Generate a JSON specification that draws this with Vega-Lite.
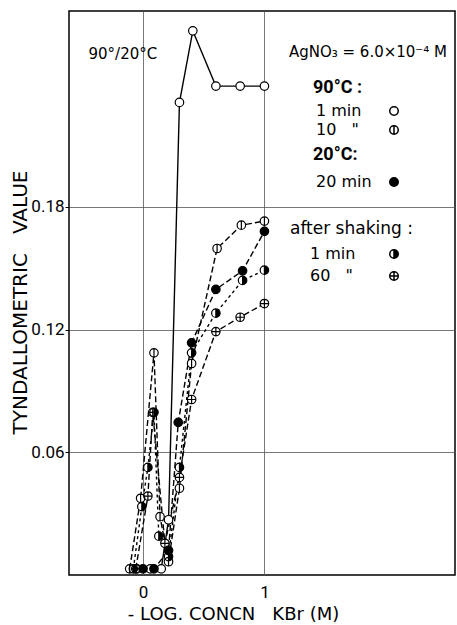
{
  "$schema": "https://vega.github.io/schema/vega-lite/v6.json",
  "width": 386,
  "height": 564,
  "autosize": "none",
  "padding": {"left": 69, "top": 11, "right": 2, "bottom": 50},
  "background": "white",
  "title": {
    "text": "AgNO₃ = 6.0×10⁻⁴ M",
    "orient": "top",
    "anchor": "end",
    "frame": "group",
    "offset": -49,
    "dx": -8,
    "font": "DejaVu Sans",
    "fontSize": 15,
    "fontWeight": "normal",
    "color": "black"
  },
  "config": {
    "font": "DejaVu Sans",
    "view": {"stroke": "black", "strokeWidth": 1.5},
    "axis": {
      "labelFont": "Roboto",
      "titleFont": "DejaVu Sans",
      "labelColor": "black",
      "titleColor": "black",
      "titleFontWeight": "normal",
      "domain": false,
      "gridColor": "#555",
      "gridWidth": 0.8,
      "tickColor": "black"
    },
    "legend": {
      "labelFont": "DejaVu Sans",
      "titleFont": "DejaVu Sans",
      "labelColor": "black",
      "titleColor": "black"
    }
  },
  "data": {
    "values": [
      {"series": "90°C 1 min", "group": "90°C", "time": "1 min", "x": -0.05, "y": 0.003},
      {"series": "90°C 1 min", "group": "90°C", "time": "1 min", "x": 0.06, "y": 0.003},
      {"series": "90°C 1 min", "group": "90°C", "time": "1 min", "x": 0.15, "y": 0.003},
      {"series": "90°C 1 min", "group": "90°C", "time": "1 min", "x": 0.21, "y": 0.027},
      {"series": "90°C 1 min", "group": "90°C", "time": "1 min", "x": 0.30, "y": 0.231},
      {"series": "90°C 1 min", "group": "90°C", "time": "1 min", "x": 0.41, "y": 0.266},
      {"series": "90°C 1 min", "group": "90°C", "time": "1 min", "x": 0.60, "y": 0.239},
      {"series": "90°C 1 min", "group": "90°C", "time": "1 min", "x": 0.80, "y": 0.239},
      {"series": "90°C 1 min", "group": "90°C", "time": "1 min", "x": 1.00, "y": 0.239},

      {"series": "90°C 10 min", "group": "90°C", "time": "10 min", "x": -0.11, "y": 0.003},
      {"series": "90°C 10 min", "group": "90°C", "time": "10 min", "x": -0.02, "y": 0.0375},
      {"series": "90°C 10 min", "group": "90°C", "time": "10 min", "x": 0.09, "y": 0.1086},
      {"series": "90°C 10 min", "group": "90°C", "time": "10 min", "x": 0.14, "y": 0.0285},
      {"series": "90°C 10 min", "group": "90°C", "time": "10 min", "x": 0.21, "y": 0.0065},
      {"series": "90°C 10 min", "group": "90°C", "time": "10 min", "x": 0.30, "y": 0.0424},
      {"series": "90°C 10 min", "group": "90°C", "time": "10 min", "x": 0.40, "y": 0.1034},
      {"series": "90°C 10 min", "group": "90°C", "time": "10 min", "x": 0.61, "y": 0.1596},
      {"series": "90°C 10 min", "group": "90°C", "time": "10 min", "x": 0.81, "y": 0.171},
      {"series": "90°C 10 min", "group": "90°C", "time": "10 min", "x": 1.00, "y": 0.173},

      {"series": "20°C 20 min", "group": "20°C", "time": "20 min", "x": 0.00, "y": 0.003},
      {"series": "20°C 20 min", "group": "20°C", "time": "20 min", "x": 0.09, "y": 0.003},
      {"series": "20°C 20 min", "group": "20°C", "time": "20 min", "x": 0.21, "y": 0.012},
      {"series": "20°C 20 min", "group": "20°C", "time": "20 min", "x": 0.29, "y": 0.0746},
      {"series": "20°C 20 min", "group": "20°C", "time": "20 min", "x": 0.40, "y": 0.1135},
      {"series": "20°C 20 min", "group": "20°C", "time": "20 min", "x": 0.60, "y": 0.1396},
      {"series": "20°C 20 min", "group": "20°C", "time": "20 min", "x": 0.82, "y": 0.1487},
      {"series": "20°C 20 min", "group": "20°C", "time": "20 min", "x": 1.00, "y": 0.168},

      {"series": "shaken 1 min", "group": "after shaking", "time": "1 min", "x": -0.08, "y": 0.003},
      {"series": "shaken 1 min", "group": "after shaking", "time": "1 min", "x": -0.01, "y": 0.0334},
      {"series": "shaken 1 min", "group": "after shaking", "time": "1 min", "x": 0.04, "y": 0.0526},
      {"series": "shaken 1 min", "group": "after shaking", "time": "1 min", "x": 0.09, "y": 0.0795},
      {"series": "shaken 1 min", "group": "after shaking", "time": "1 min", "x": 0.13, "y": 0.019},
      {"series": "shaken 1 min", "group": "after shaking", "time": "1 min", "x": 0.21, "y": 0.009},
      {"series": "shaken 1 min", "group": "after shaking", "time": "1 min", "x": 0.30, "y": 0.0526},
      {"series": "shaken 1 min", "group": "after shaking", "time": "1 min", "x": 0.40, "y": 0.1086},
      {"series": "shaken 1 min", "group": "after shaking", "time": "1 min", "x": 0.60, "y": 0.128},
      {"series": "shaken 1 min", "group": "after shaking", "time": "1 min", "x": 0.82, "y": 0.144},
      {"series": "shaken 1 min", "group": "after shaking", "time": "1 min", "x": 1.00, "y": 0.149},

      {"series": "shaken 60 min", "group": "after shaking", "time": "60 min", "x": -0.06, "y": 0.003},
      {"series": "shaken 60 min", "group": "after shaking", "time": "60 min", "x": 0.04, "y": 0.0386},
      {"series": "shaken 60 min", "group": "after shaking", "time": "60 min", "x": 0.08, "y": 0.0795},
      {"series": "shaken 60 min", "group": "after shaking", "time": "60 min", "x": 0.18, "y": 0.0155},
      {"series": "shaken 60 min", "group": "after shaking", "time": "60 min", "x": 0.30, "y": 0.0477},
      {"series": "shaken 60 min", "group": "after shaking", "time": "60 min", "x": 0.40, "y": 0.0858},
      {"series": "shaken 60 min", "group": "after shaking", "time": "60 min", "x": 0.60, "y": 0.119},
      {"series": "shaken 60 min", "group": "after shaking", "time": "60 min", "x": 0.80, "y": 0.126},
      {"series": "shaken 60 min", "group": "after shaking", "time": "60 min", "x": 1.00, "y": 0.1327}
    ]
  },
  "layer": [
    {
      "mark": {"type": "line", "color": "black", "strokeWidth": 1.4},
      "encoding": {
        "x": {
          "field": "x", "type": "quantitative",
          "scale": {"domain": [-0.61, 2.57], "nice": false, "zero": false},
          "axis": {
            "values": [0, 1],
            "format": "d",
            "grid": true,
            "tickSize": 0,
            "labelFontSize": 17,
            "labelPadding": 9,
            "title": "- LOG. CONCN\u00a0\u00a0\u00a0KBr (M)",
            "titleFontSize": 18,
            "titleX": 164,
            "titleY": 39,
            "titleBaseline": "middle"
          }
        },
        "y": {
          "field": "y", "type": "quantitative",
          "scale": {"domain": [0, 0.2757], "nice": false},
          "axis": {
            "values": [0.06, 0.12, 0.18],
            "format": ".2f",
            "grid": true,
            "tickSize": 4,
            "labelFontSize": 17,
            "labelPadding": 1,
            "title": "TYNDALLOMETRIC\u00a0\u00a0\u00a0VALUE",
            "titleFontSize": 20,
            "titleX": -49,
            "titleY": 291,
            "titleBaseline": "middle"
          }
        },
        "detail": {"field": "series"},
        "strokeDash": {
          "field": "series", "type": "nominal", "legend": null,
          "scale": {
            "domain": ["90°C 1 min", "90°C 10 min", "20°C 20 min", "shaken 1 min", "shaken 60 min"],
            "range": [[1, 0], [6, 3], [6, 3], [3, 3], [6, 3]]
          }
        }
      }
    },
    {
      "mark": {"type": "point", "shape": "circle", "filled": true, "color": "white", "size": 72, "opacity": 1},
      "encoding": {
        "x": {
          "field": "x", "type": "quantitative",
          "axis": {
            "orient": "top",
            "labels": false,
            "ticks": false,
            "grid": false,
            "title": "90°/20°C",
            "titleFontSize": 15,
            "titleAlign": "left",
            "titleBaseline": "alphabetic",
            "titleX": 19,
            "titleY": 47
          }
        },
        "y": {"field": "y", "type": "quantitative", "axis": null}
      }
    },
    {
      "transform": [{"filter": "datum.group === '90°C'"}],
      "mark": {"type": "point", "filled": true, "color": "black", "stroke": "black", "strokeWidth": 1.2, "size": 72, "opacity": 1},
      "encoding": {
        "x": {"field": "x", "type": "quantitative", "axis": null},
        "y": {"field": "y", "type": "quantitative", "axis": null},
        "shape": {
          "field": "time", "type": "nominal",
          "scale": {
            "domain": ["1 min", "10 min"],
            "range": [
              "M0 -1A1 1 0 1 1 0 1A1 1 0 1 1 0 -1ZM0 -1A1 1 0 1 0 0 1A1 1 0 1 0 0 -1Z",
              "M0 -1A1 1 0 1 1 0 1A1 1 0 1 1 0 -1ZM0 -1A1 1 0 1 0 0 1A1 1 0 1 0 0 -1ZM0 -1L0 1"
            ]
          },
          "legend": {
            "title": "90°C :",
            "orient": "none",
            "legendX": 244,
            "legendY": 68,
            "titleFont": "Roboto",
            "titleFontSize": 18,
            "titleFontWeight": "bold",
            "titlePadding": 6,
            "labelFontSize": 16,
            "labelOffset": -86,
            "symbolOffset": 73,
            "symbolSize": 72,
            "rowPadding": 3,
            "padding": 0,
            "labelExpr": "datum.label === '1 min' ? '\u20071 min' : '10\u00a0\u00a0\u00a0\"'",
            "encode": {
              "symbols": {
                "update": {
                  "fill": {"value": "black"},
                  "stroke": {"value": "black"},
                  "strokeWidth": {"value": 1.2}
                }
              }
            }
          }
        }
      }
    },
    {
      "transform": [{"filter": "datum.group === '20°C'"}],
      "mark": {"type": "point", "filled": true, "color": "black", "stroke": "black", "strokeWidth": 1.2, "size": 72, "opacity": 1},
      "encoding": {
        "x": {"field": "x", "type": "quantitative", "axis": null},
        "y": {"field": "y", "type": "quantitative", "axis": null},
        "shape": {
          "field": "time", "type": "nominal",
          "scale": {
            "domain": ["20 min"],
            "range": ["M0 -1A1 1 0 1 1 0 1A1 1 0 1 1 0 -1Z"]
          },
          "legend": {
            "title": "20°C:",
            "orient": "none",
            "legendX": 244,
            "legendY": 135,
            "titleFont": "Roboto",
            "titleFontSize": 18,
            "titleFontWeight": "bold",
            "titlePadding": 10,
            "labelFontSize": 16,
            "labelOffset": -86,
            "symbolOffset": 73,
            "symbolSize": 72,
            "padding": 0,
            "encode": {
              "symbols": {
                "update": {
                  "fill": {"value": "black"},
                  "stroke": {"value": "black"},
                  "strokeWidth": {"value": 1.2}
                }
              }
            }
          }
        }
      }
    },
    {
      "transform": [{"filter": "datum.group === 'after shaking'"}],
      "mark": {"type": "point", "filled": true, "color": "black", "stroke": "black", "strokeWidth": 1.2, "size": 72, "opacity": 1},
      "encoding": {
        "x": {"field": "x", "type": "quantitative", "axis": null},
        "y": {"field": "y", "type": "quantitative", "axis": null},
        "shape": {
          "field": "time", "type": "nominal",
          "scale": {
            "domain": ["1 min", "60 min"],
            "range": [
              "M0 -1A1 1 0 1 1 0 1A1 1 0 1 1 0 -1ZM0 -1A1 1 0 0 0 0 1Z",
              "M0 -1A1 1 0 1 1 0 1A1 1 0 1 1 0 -1ZM0 -1A1 1 0 1 0 0 1A1 1 0 1 0 0 -1ZM0 -1L0 1M-1 0L1 0"
            ]
          },
          "legend": {
            "title": "after shaking :",
            "orient": "none",
            "legendX": 221,
            "legendY": 210,
            "titleFontSize": 17,
            "titleFontWeight": "normal",
            "titlePadding": 8,
            "labelFontSize": 16,
            "labelOffset": -92,
            "symbolOffset": 96,
            "symbolSize": 72,
            "rowPadding": 6,
            "padding": 0,
            "labelExpr": "datum.label === '1 min' ? '\u20071 min' : '60\u00a0\u00a0\u00a0\"'",
            "encode": {
              "symbols": {
                "update": {
                  "fill": {"value": "black"},
                  "stroke": {"value": "black"},
                  "strokeWidth": {"value": 1.2}
                }
              }
            }
          }
        }
      }
    }
  ],
  "resolve": {
    "scale": {"shape": "independent"},
    "axis": {"x": "independent", "y": "independent"}
  }
}
